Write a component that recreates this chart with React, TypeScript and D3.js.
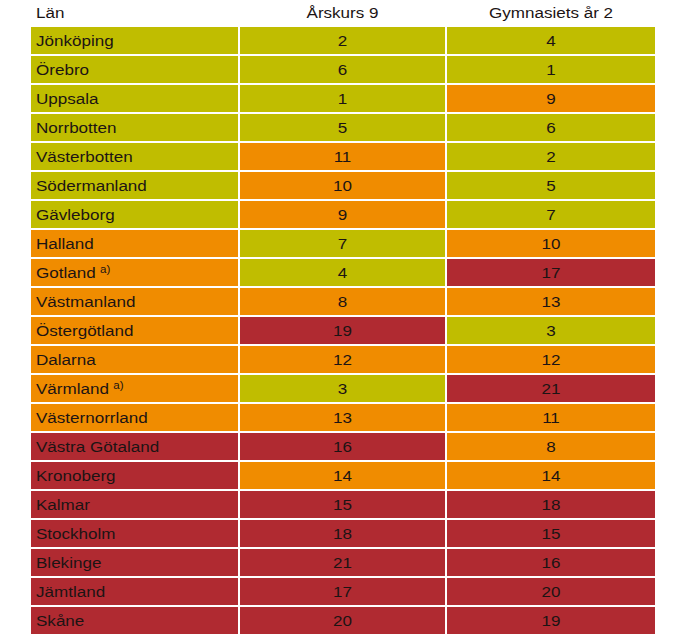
import React from "react";
import * as d3 from "d3";

const lan = ["Jönköping","Örebro","Uppsala","Norrbotten","Västerbotten","Södermanland","Gävleborg","Halland","Gotland","Västmanland","Östergötland","Dalarna","Värmland","Västernorrland","Västra Götaland","Kronoberg","Kalmar","Stockholm","Blekinge","Jämtland","Skåne"];
const footnote = ["","","","","","","","","a)","","","","a)","","","","","","","",""];
const arskurs9 = [2,6,1,5,11,10,9,7,4,8,19,12,3,13,16,14,15,18,21,17,20];
const gymnasiet2 = [4,1,9,6,2,5,7,10,17,13,3,12,21,11,8,14,18,15,16,20,19];
const headers = ["Län","Årskurs 9","Gymnasiets år 2"];

const colorScale = d3.scaleThreshold<number, string>()
  .domain([8, 15])
  .range(["#c0bd00", "#f08c00", "#b02a31"]);

export default function App() {
  const W = 688, H = 642;
  const top = 27, rowPitch = 29, rowH = 27;
  const y = d3.scaleBand<number>().domain(d3.range(lan.length)).range([top, top + rowPitch * lan.length]).paddingInner(0);
  const cols = [
    { x0: 31, x1: 238 },
    { x0: 240, x1: 445 },
    { x0: 447, x1: 655 },
  ];
  const font = "Arial, 'Liberation Sans', sans-serif";
  const fs = 15.5;
  const sx = 1.1;
  const txt = "#1c1414";
  const T = (x: number, yy: number, content: React.ReactNode, anchor: string = "start", key?: string) => (
    <text key={key} transform={`translate(${x},${yy}) scale(${sx},1)`} fontSize={fs} fill={txt} textAnchor={anchor}>{content}</text>
  );
  return (
    <svg width={W} height={H} style={{ position: "absolute", left: 0, top: 0, background: "#fff" }} fontFamily={font}>
      {T(36, 18, headers[0])}
      {T((cols[1].x0 + cols[1].x1) / 2, 18, headers[1], "middle")}
      {T((cols[2].x0 + cols[2].x1) / 2, 18, headers[2], "middle")}
      {lan.map((name, i) => {
        const yy = y(i)!;
        const cy = yy + 19;
        const vals = [i + 1, arskurs9[i], gymnasiet2[i]];
        return (
          <g key={name}>
            {cols.map((c, j) => (
              <rect key={j} x={c.x0} y={yy} width={c.x1 - c.x0} height={rowH} fill={colorScale(vals[j])} />
            ))}
            {T(36, cy, <>
              {name}
              {footnote[i] && <tspan dx={4} dy={-5} fontSize={10.5}>{footnote[i]}</tspan>}
            </>)}
            {T((cols[1].x0 + cols[1].x1) / 2, cy, arskurs9[i], "middle")}
            {T((cols[2].x0 + cols[2].x1) / 2, cy, gymnasiet2[i], "middle")}
          </g>
        );
      })}
    </svg>
  );
}
